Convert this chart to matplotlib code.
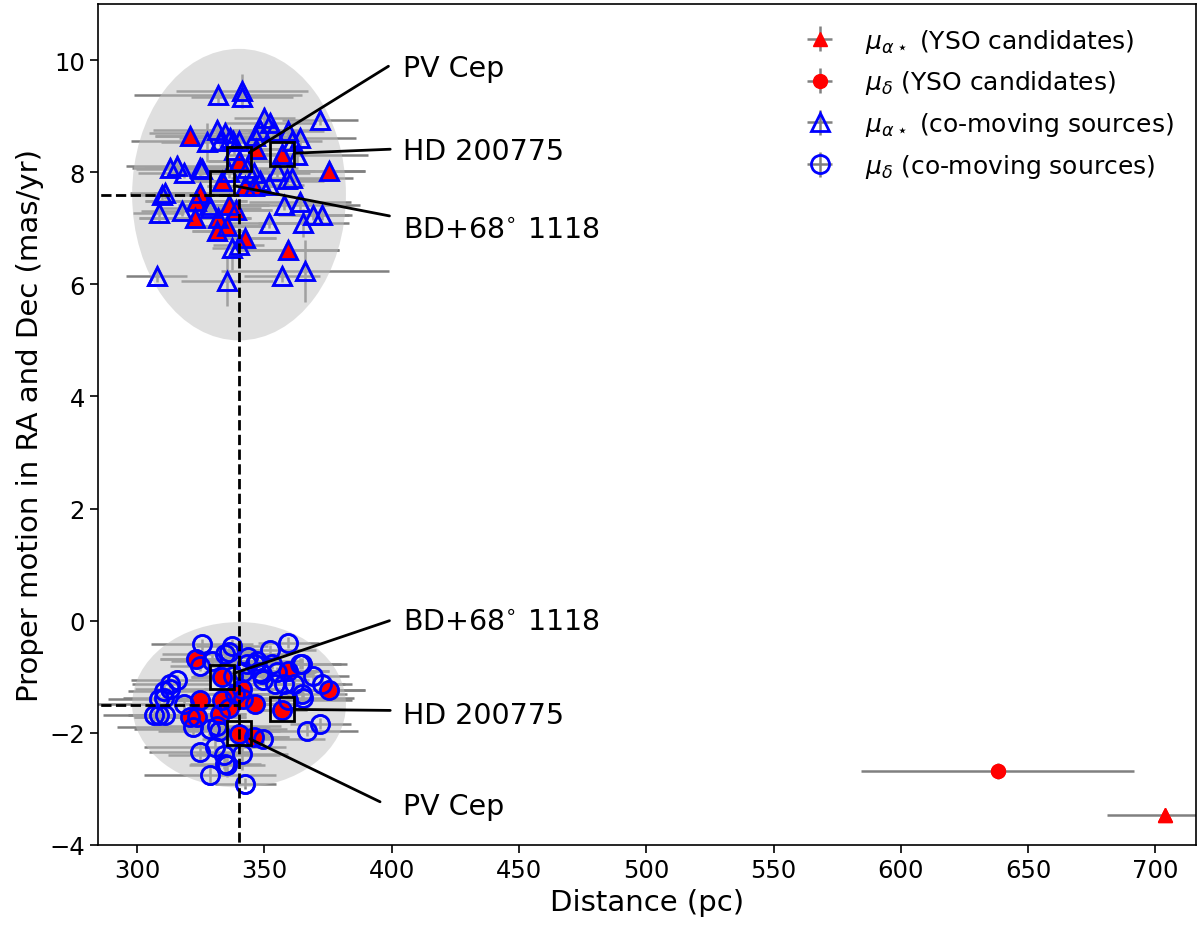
import matplotlib.pyplot as plt
from matplotlib.patches import Ellipse

# YSO candidates: distance (pc), proper motions (mas/yr) and errors
yso_dist = [320.8, 339.8, 346.6, 356.8, 333.3, 375.4, 324.5, 323.2, 342.4,
            345.7, 335.9, 338.9, 322.8, 331.9, 331.5, 335.2, 342.4, 359.4, 704.0]
yso_dist_err = [14, 12, 16, 10, 12, 14, 18, 20, 15,
                12, 16, 14, 22, 12, 10, 15, 12, 20, 23]
yso_pmra = [8.64, 8.20, 8.41, 8.32, 7.84, 8.02, 7.63, 7.48, 7.75,
            7.75, 7.42, 7.33, 7.19, 7.19, 6.95, 7.04, 6.83, 6.62, -3.46]
yso_pmra_err = [0.10, 0.08, 0.10, 0.08, 0.08, 0.10, 0.12, 0.10, 0.10,
                0.10, 0.10, 0.12, 0.10, 0.10, 0.10, 0.10, 0.10, 0.12, 0.05]

yso_dec_dist = [323.0, 333.3, 359.4, 375.5, 324.7, 333.3, 341.1, 341.7, 346.3,
                320.8, 323.4, 332.6, 356.8, 339.8, 345.7, 338.5, 336.0, 638.0]
yso_dec_dist_err = [14, 12, 16, 14, 18, 20, 15, 12, 16,
                    22, 12, 10, 10, 12, 14, 15, 12, 53.5]
yso_pmdec = [-0.68, -1.01, -0.89, -1.23, -1.42, -1.42, -1.22, -1.40, -1.49,
             -1.72, -1.72, -1.66, -1.60, -2.02, -2.07, -1.30, -1.55, -2.68]
yso_pmdec_err = [0.10, 0.08, 0.10, 0.10, 0.10, 0.12, 0.10, 0.10, 0.10,
                 0.10, 0.10, 0.10, 0.08, 0.08, 0.10, 0.10, 0.10, 0.15]

# other co-moving sources (the YSO cluster members are co-moving too)
cm_ra_dist = [331.9, 341.1, 341.1, 371.9, 349.9, 352.2, 359.4, 364.0, 331.3, 334.6,
              336.5, 327.4, 332.6, 337.8, 348.3, 353.5, 360.7, 362.7, 313.0, 315.6,
              318.2, 324.7, 309.7, 308.4, 317.6, 328.7, 348.3, 351.6, 360.7, 357.5,
              364.0, 369.2, 372.5, 365.3, 351.6, 339.8, 307.7, 335.2, 356.8, 366.0,
              343.1, 345.7, 325.4, 354.9, 358.8, 337.2, 311.0, 328.0, 339.8, 346.3,
              338.0, 336.0]
cm_ra_dist_err = [33, 26, 20, 15, 12, 18, 14, 22, 25, 30,
                  20, 18, 35, 15, 20, 10, 12, 28, 15, 20,
                  18, 22, 12, 10, 16, 20, 25, 14, 24, 30,
                  20, 14, 12, 18, 16, 10, 12, 18, 15, 33,
                  20, 22, 26, 15, 18, 8, 14, 12, 20, 16,
                  14, 24]
cm_pmra = [9.38, 9.45, 9.34, 8.94, 8.97, 8.88, 8.73, 8.61, 8.76, 8.70,
           8.61, 8.53, 8.56, 8.56, 8.76, 8.73, 8.56, 8.31, 8.08, 8.11,
           7.99, 8.08, 7.60, 7.28, 7.31, 7.37, 7.84, 7.78, 7.90, 7.42,
           7.46, 7.24, 7.24, 7.10, 7.10, 6.71, 6.15, 6.06, 6.15, 6.24,
           8.08, 7.99, 8.05, 8.02, 7.87, 6.65, 7.63, 7.42, 8.56, 8.65,
           8.40, 8.00]
cm_pmra_err = [0.15, 0.30, 0.10, 0.10, 0.20, 0.10, 0.10, 0.15, 0.10, 0.20,
               0.10, 0.35, 0.10, 0.10, 0.15, 0.10, 0.10, 0.15, 0.10, 0.20,
               0.10, 0.20, 0.10, 0.15, 0.10, 0.10, 0.10, 0.10, 0.10, 0.10,
               0.15, 0.10, 0.10, 0.25, 0.10, 0.20, 0.10, 0.45, 0.10, 0.55,
               0.10, 0.10, 0.10, 0.10, 0.10, 0.40, 0.10, 0.10, 0.15, 0.10,
               0.10, 0.10]

cm_dec_dist = [325.4, 337.2, 359.4, 352.2, 334.6, 364.0, 369.2, 372.5, 343.1, 348.3,
               354.9, 349.6, 357.5, 365.3, 361.4, 315.6, 313.0, 310.4, 308.4, 311.0,
               306.4, 328.7, 331.3, 318.2, 330.6, 324.7, 333.9, 341.1, 335.2, 328.7,
               342.4, 349.6, 366.6, 371.9, 341.7, 337.8, 347.0, 352.9, 322.1, 324.7,
               310.4, 308.4, 329.3, 335.9, 332.0, 334.6, 364.6, 346.3, 348.9, 343.7,
               354.2, 359.4, 364.6, 313.0]
cm_dec_dist_err = [20, 14, 12, 18, 25, 16, 14, 12, 20, 22,
                   15, 18, 24, 20, 12, 18, 14, 16, 22, 12,
                   10, 30, 25, 35, 28, 20, 22, 18, 15, 26,
                   12, 24, 20, 12, 14, 16, 18, 15, 30, 12,
                   14, 20, 16, 12, 24, 14, 18, 12, 20, 10,
                   22, 25, 18, 15]
cm_pmdec = [-0.42, -0.45, -0.39, -0.53, -0.59, -0.77, -0.98, -1.13, -0.77, -0.92,
            -0.92, -1.06, -1.13, -1.37, -1.13, -1.06, -1.22, -1.37, -1.69, -1.69,
            -1.69, -1.93, -1.87, -1.48, -2.26, -2.35, -2.40, -2.37, -2.58, -2.76,
            -2.91, -2.11, -1.96, -1.84, -0.92, -0.98, -0.71, -0.77, -1.90, -0.80,
            -1.25, -1.40, -0.71, -0.56, -1.96, -2.55, -0.77, -0.77, -0.95, -0.65,
            -1.13, -1.42, -1.31, -1.13]
cm_pmdec_err = [0.10, 0.12, 0.10, 0.10, 0.15, 0.10, 0.10, 0.10, 0.12, 0.10,
                0.10, 0.10, 0.12, 0.10, 0.10, 0.10, 0.12, 0.10, 0.10, 0.10,
                0.10, 0.15, 0.12, 0.10, 0.20, 0.15, 0.25, 0.30, 0.20, 0.15,
                0.10, 0.15, 0.10, 0.10, 0.10, 0.12, 0.10, 0.10, 0.15, 0.10,
                0.10, 0.10, 0.10, 0.10, 0.15, 0.20, 0.10, 0.10, 0.10, 0.10,
                0.10, 0.12, 0.10, 0.10]

# highlighted stars
star_names = ['PV Cep', 'HD 200775', r'BD+68$^{\circ}$ 1118']
star_dist = [339.8, 356.8, 333.3]
star_pmra = [8.23, 8.33, 7.80]
star_pmdec = [-2.01, -1.58, -1.01]

# mean distance and proper motions of the group
mean_dist = 340.0
mean_pmra = 7.6
mean_pmdec = -1.5

# all co-moving sources = cluster YSOs + others
ra_dist_all = cm_ra_dist + yso_dist[:-1]
ra_all = cm_pmra + yso_pmra[:-1]
ra_xerr_all = cm_ra_dist_err + yso_dist_err[:-1]
ra_yerr_all = cm_pmra_err + yso_pmra_err[:-1]
dec_dist_all = cm_dec_dist + yso_dec_dist[:-1]
dec_all = cm_pmdec + yso_pmdec[:-1]
dec_xerr_all = cm_dec_dist_err + yso_dec_dist_err[:-1]
dec_yerr_all = cm_pmdec_err + yso_pmdec_err[:-1]

plt.rcParams['font.size'] = 17.5
plt.rcParams['xtick.major.size'] = 6
plt.rcParams['ytick.major.size'] = 6
plt.rcParams['xtick.major.width'] = 1.2
plt.rcParams['ytick.major.width'] = 1.2
plt.rcParams['axes.linewidth'] = 1.2

fig, ax = plt.subplots(figsize=(12, 9.28), dpi=100)
fig.subplots_adjust(left=0.0817, right=0.9967, top=0.9946, bottom=0.0884)

ebkw = dict(ecolor='gray', elinewidth=1.8, capsize=0, zorder=1, linestyle='none')
h1 = ax.errorbar(yso_dist, yso_pmra, xerr=yso_dist_err, yerr=yso_pmra_err,
                 fmt='^', color='red', ms=10, label=r'$\mu_{\alpha\star}$ (YSO candidates)', **ebkw)
h2 = ax.errorbar(yso_dec_dist, yso_pmdec, xerr=yso_dec_dist_err, yerr=yso_pmdec_err,
                 fmt='o', color='red', ms=10, label=r'$\mu_\delta$ (YSO candidates)', **ebkw)
h3 = ax.errorbar(ra_dist_all, ra_all, xerr=ra_xerr_all, yerr=ra_yerr_all,
                 fmt='^', mfc='none', mec='blue', mew=2, ms=13,
                 label=r'$\mu_{\alpha\star}$ (co-moving sources)', **ebkw)
h4 = ax.errorbar(dec_dist_all, dec_all, xerr=dec_xerr_all, yerr=dec_yerr_all,
                 fmt='o', mfc='none', mec='blue', mew=2, ms=13,
                 label=r'$\mu_\delta$ (co-moving sources)', **ebkw)

# grey ellipses around the two groups
ax.add_patch(Ellipse((mean_dist, mean_pmra), 84, 5.2, facecolor='silver', alpha=0.5,
                     edgecolor='none', zorder=2))
ax.add_patch(Ellipse((mean_dist, mean_pmdec), 84, 2.95, facecolor='silver', alpha=0.5,
                     edgecolor='none', zorder=2))

# markers on top of the ellipses
ax.plot(yso_dist, yso_pmra, '^', color='red', ms=10, zorder=3)
ax.plot(yso_dec_dist, yso_pmdec, 'o', color='red', ms=10, zorder=3)
ax.plot(ra_dist_all, ra_all, '^', mfc='none', mec='blue', mew=2, ms=13, zorder=4)
ax.plot(dec_dist_all, dec_all, 'o', mfc='none', mec='blue', mew=2, ms=13, zorder=4)

# boxes around the named stars
ax.plot(star_dist, star_pmra, 's', mfc='none', mec='black', mew=2, ms=17, zorder=5)
ax.plot(star_dist, star_pmdec, 's', mfc='none', mec='black', mew=2, ms=17, zorder=5)

# dashed lines for mean values
ax.plot([280, mean_dist], [mean_pmra, mean_pmra], 'k--', lw=2, zorder=6)
ax.plot([280, mean_dist], [mean_pmdec, mean_pmdec], 'k--', lw=2, zorder=6)
ax.plot([mean_dist, mean_dist], [-5, mean_pmra], 'k--', lw=2, zorder=6)

# labels for the named stars
ra_line_end = [(398.7, 9.89), (399.4, 8.41), (399.1, 7.22)]
ra_text_y = [9.86, 8.38, 6.99]
dec_line_end = [(395.4, -3.23), (399.4, -1.60), (399.1, 0.0)]
dec_text_y = [-3.30, -1.69, 0.0]
for i, name in enumerate(star_names):
    ax.annotate('', xy=(star_dist[i], star_pmra[i]), xytext=ra_line_end[i],
                arrowprops=dict(arrowstyle='-', color='black', lw=2, shrinkA=0, shrinkB=9),
                zorder=6)
    ax.text(404.5, ra_text_y[i], name, va='center', ha='left', fontsize=20.5)
    ax.annotate('', xy=(star_dist[i], star_pmdec[i]), xytext=dec_line_end[i],
                arrowprops=dict(arrowstyle='-', color='black', lw=2, shrinkA=0, shrinkB=9),
                zorder=6)
    ax.text(404.5, dec_text_y[i], name, va='center', ha='left', fontsize=20.5)

ax.set_xlim(284.6, 716)
ax.set_ylim(-4, 11)
ax.set_xlabel('Distance (pc)', fontsize=21)
ax.set_ylabel('Proper motion in RA and Dec (mas/yr)', fontsize=21)
ax.legend(handles=[h1, h2, h3, h4], loc='upper right', frameon=False, fontsize=18,
          labelspacing=0.55)

plt.savefig('out.png')
